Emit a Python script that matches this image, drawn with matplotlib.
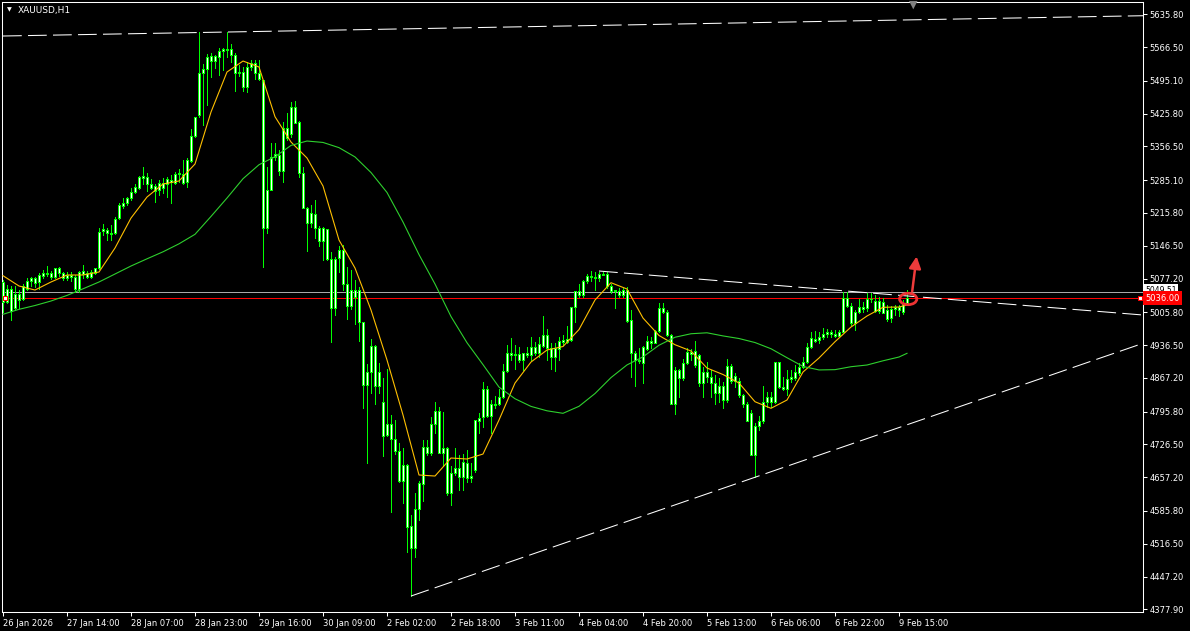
import numpy as np
import matplotlib
matplotlib.use("Agg")
import matplotlib.pyplot as plt
from matplotlib.patches import Ellipse
from matplotlib.transforms import blended_transform_factory

# XAUUSD H1 candles (bar 0 = 26 Jan 21:00)
opens = [
    5070, 5028, 5056, 5014, 5044, 5034, 5056, 5072, 5078, 5069,
    5083, 5088, 5088, 5080, 5100, 5088, 5078, 5085, 5081, 5056,
    5093, 5088, 5080, 5088, 5100, 5178, 5179, 5173, 5173, 5206,
    5231, 5236, 5247, 5261, 5269, 5290, 5292, 5278, 5272, 5264,
    5268, 5276, 5286, 5280, 5299, 5299, 5282, 5326, 5378, 5423,
    5512, 5521, 5548, 5537, 5546, 5558, 5562, 5562, 5550, 5511,
    5514, 5483, 5524, 5533, 5511, 5497, 5183, 5264, 5335, 5338,
    5305, 5395, 5383, 5439, 5409, 5301, 5226, 5195, 5214, 5185,
    5157, 5181, 5118, 5014, 5120, 5137, 5066, 5019, 5053, 5054,
    4986, 4852, 4880, 4935, 4850, 4817, 4746, 4770, 4739, 4713,
    4650, 4683, 4554, 4507, 4589, 4643, 4722, 4708, 4770, 4797,
    4709, 4718, 4623, 4667, 4676, 4658, 4687, 4655, 4672, 4777,
    4785, 4843, 4787, 4812, 4812, 4827, 4882, 4919, 4916, 4917,
    4905, 4919, 4916, 4933, 4920, 4935, 4958, 4930, 4911, 4928,
    4947, 4944, 4947, 5016, 5050, 5042, 5071, 5083, 5080, 5078,
    5087, 5087, 5061, 5050, 5050, 5042, 5054, 4990, 4920, 4905,
    4899, 4928, 4945, 4940, 4967, 5014, 5007, 4958, 4813, 4884,
    4866, 4898, 4921, 4894, 4915, 4856, 4880, 4869, 4856, 4835,
    4850, 4820, 4892, 4861, 4861, 4831, 4813, 4794, 4705, 4765,
    4775, 4817, 4826, 4817, 4900, 4847, 4843, 4864, 4866, 4878,
    4890, 4901, 4932, 4949, 4947, 4953, 4961, 4965, 4960, 4956,
    4965, 5037, 5019, 4984, 5007, 5018, 5014, 5035, 5030, 5009,
    5028, 5011, 4993, 5012, 5016, 5007, 5026,
]
highs = [
    5074, 5063, 5062, 5062, 5053, 5065, 5079, 5081, 5081, 5088,
    5095, 5104, 5093, 5100, 5102, 5092, 5092, 5092, 5085, 5093,
    5106, 5093, 5095, 5100, 5185, 5192, 5185, 5190, 5208, 5236,
    5248, 5250, 5268, 5276, 5295, 5313, 5300, 5288, 5276, 5286,
    5289, 5292, 5296, 5302, 5309, 5328, 5331, 5393, 5419, 5598,
    5530, 5551, 5553, 5550, 5565, 5565, 5598, 5574, 5553, 5528,
    5525, 5536, 5539, 5540, 5539, 5497, 5313, 5363, 5364, 5349,
    5409, 5428, 5451, 5453, 5410, 5312, 5229, 5233, 5243, 5188,
    5187, 5181, 5134, 5123, 5146, 5148, 5102, 5095, 5074, 5060,
    4986, 4896, 4949, 4937, 4898, 4866, 4887, 4789, 4778, 4729,
    4718, 4686, 4577, 4623, 4650, 4736, 4736, 4784, 4817, 4806,
    4796, 4722, 4680, 4718, 4704, 4707, 4715, 4687, 4778, 4792,
    4859, 4849, 4820, 4829, 4843, 4896, 4937, 4951, 4937, 4932,
    4920, 4932, 4953, 4943, 4953, 4997, 4971, 4940, 4940, 4954,
    4958, 4976, 5018, 5050, 5066, 5074, 5087, 5094, 5090, 5092,
    5092, 5092, 5066, 5053, 5057, 5057, 5060, 5011, 4923, 4930,
    4935, 4956, 4954, 4968, 5025, 5025, 5011, 4961, 4891, 4887,
    4908, 4930, 4929, 4946, 4918, 4891, 4901, 4884, 4873, 4866,
    4859, 4908, 4896, 4877, 4866, 4834, 4817, 4799, 4771, 4787,
    4849, 4838, 4838, 4900, 4901, 4869, 4884, 4884, 4894, 4898,
    4912, 4940, 4965, 4967, 4965, 4972, 4970, 4968, 4968, 4968,
    5049, 5049, 5025, 5010, 5033, 5028, 5046, 5046, 5042, 5039,
    5037, 5021, 5019, 5021, 5021, 5031, 5054,
]
lows = [
    5007, 5025, 4990, 5011, 5014, 5032, 5053, 5062, 5060, 5056,
    5078, 5083, 5076, 5078, 5083, 5074, 5074, 5071, 5049, 5049,
    5078, 5078, 5078, 5086, 5097, 5169, 5159, 5159, 5171, 5204,
    5227, 5233, 5243, 5257, 5266, 5278, 5262, 5266, 5240, 5254,
    5257, 5250, 5236, 5276, 5282, 5278, 5270, 5324, 5376, 5419,
    5402, 5444, 5504, 5523, 5507, 5518, 5546, 5536, 5474, 5505,
    5474, 5471, 5518, 5500, 5497, 5101, 5173, 5264, 5328, 5296,
    5282, 5370, 5377, 5405, 5291, 5226, 5136, 5187, 5162, 5146,
    5116, 5116, 4944, 5000, 5090, 5053, 4991, 5012, 4982, 4946,
    4803, 4688, 4836, 4812, 4835, 4702, 4744, 4584, 4707, 4648,
    4602, 4500, 4406, 4489, 4567, 4606, 4704, 4704, 4750, 4708,
    4680, 4620, 4598, 4662, 4630, 4630, 4648, 4648, 4669, 4750,
    4764, 4785, 4750, 4803, 4810, 4824, 4880, 4905, 4887, 4901,
    4884, 4912, 4905, 4916, 4911, 4933, 4905, 4887, 4882, 4905,
    4937, 4940, 4945, 4986, 5038, 5039, 5067, 5073, 5052, 5071,
    5085, 5058, 5046, 5014, 5039, 5039, 4986, 4870, 4850, 4898,
    4856, 4926, 4930, 4940, 4965, 5004, 4956, 4812, 4791, 4826,
    4863, 4897, 4905, 4891, 4849, 4827, 4859, 4827, 4813, 4817,
    4803, 4817, 4856, 4848, 4827, 4806, 4777, 4704, 4658, 4757,
    4771, 4806, 4806, 4815, 4845, 4842, 4831, 4859, 4863, 4873,
    4888, 4898, 4930, 4942, 4940, 4949, 4954, 4954, 4953, 4954,
    4965, 5017, 4979, 4969, 5004, 5007, 5009, 5028, 5007, 5005,
    5004, 4988, 4986, 5000, 4997, 5003, 5025,
]
closes = [
    5028, 5056, 5008, 5044, 5032, 5062, 5073, 5078, 5068, 5085,
    5088, 5086, 5080, 5100, 5088, 5078, 5085, 5081, 5056, 5092,
    5086, 5081, 5090, 5100, 5176, 5182, 5173, 5171, 5204, 5233,
    5236, 5247, 5261, 5271, 5292, 5295, 5278, 5269, 5263, 5279,
    5280, 5288, 5282, 5299, 5300, 5280, 5328, 5378, 5419, 5511,
    5520, 5546, 5537, 5548, 5558, 5562, 5560, 5550, 5512, 5514,
    5483, 5525, 5532, 5511, 5498, 5183, 5264, 5335, 5340, 5305,
    5395, 5374, 5439, 5407, 5301, 5226, 5195, 5215, 5185, 5157,
    5183, 5118, 5014, 5118, 5137, 5066, 5019, 5053, 5038, 4986,
    4852, 4880, 4935, 4850, 4880, 4744, 4770, 4739, 4713, 4650,
    4683, 4553, 4507, 4589, 4644, 4722, 4708, 4770, 4797, 4709,
    4718, 4623, 4667, 4676, 4658, 4690, 4655, 4660, 4778, 4782,
    4843, 4787, 4812, 4810, 4826, 4882, 4919, 4916, 4917, 4905,
    4919, 4916, 4933, 4920, 4939, 4958, 4930, 4911, 4930, 4946,
    4944, 4949, 5016, 5050, 5042, 5071, 5083, 5080, 5078, 5087,
    5085, 5061, 5050, 5052, 5042, 5054, 4988, 4920, 4905, 4902,
    4932, 4945, 4940, 4967, 5014, 5007, 4958, 4813, 4884, 4866,
    4898, 4921, 4918, 4923, 4856, 4880, 4868, 4856, 4836, 4850,
    4820, 4892, 4861, 4871, 4830, 4813, 4777, 4705, 4766, 4776,
    4817, 4826, 4817, 4900, 4847, 4843, 4864, 4868, 4880, 4891,
    4901, 4932, 4951, 4946, 4953, 4961, 4965, 4960, 4956, 4965,
    5037, 5019, 4984, 5007, 5018, 5012, 5035, 5033, 5009, 5030,
    5005, 4992, 5012, 5016, 5011, 5026, 5036,
]

# moving averages as drawn on the chart, read every 4 bars (+ current bar)
ma_bars = list(range(0, 225, 4)) + [226]
ma_fast = [
    5083.2, 5061.4, 5052.9, 5069.9, 5084.7, 5084.7, 5091.0, 5141.7, 5205.1, 5249.5,
    5277.0, 5283.4, 5319.3, 5429.2, 5513.8, 5537.0, 5524.4, 5419.3, 5365.8, 5332.0,
    5272.8, 5158.6, 5099.4, 5010.7, 4905.0, 4788.7, 4661.9, 4659.7, 4697.8, 4695.7,
    4706.2, 4778.1, 4856.3, 4900.7, 4926.1, 4933.5, 4969.4, 5031.8, 5068.4, 5055.1,
    4993.7, 4956.8, 4937.3, 4924.0, 4888.0, 4874.3, 4856.3, 4816.8, 4802.9, 4820.4,
    4879.6, 4909.2, 4943.6, 4974.7, 4998.0, 5016.4, 5017.0, 5021.2,
]
ma_slow = [
    5001.6, 5012.1, 5020.2, 5029.7, 5041.5, 5055.5, 5069.9, 5086.8, 5103.7, 5118.9,
    5133.7, 5150.6, 5170.7, 5208.5, 5247.4, 5288.2, 5317.8, 5334.7, 5358.6, 5367.9,
    5364.9, 5353.9, 5334.3, 5301.3, 5259.1, 5196.7, 5127.8, 5065.6, 4996.9, 4941.5,
    4895.2, 4847.7, 4823.1, 4806.9, 4797.6, 4792.3, 4807.1, 4834.1, 4867.8, 4894.6,
    4911.7, 4936.2, 4953.1, 4960.5, 4962.5, 4955.9, 4950.4, 4941.9, 4928.8, 4909.8,
    4891.4, 4884.0, 4884.6, 4890.8, 4894.4, 4903.3, 4911.3, 4919.1,
]

time_label_bars = list(range(0, 225, 16))
time_labels = ["26 Jan 2026", "27 Jan 14:00", "28 Jan 07:00", "28 Jan 23:00",
               "29 Jan 16:00", "30 Jan 09:00", "2 Feb 02:00", "2 Feb 18:00",
               "3 Feb 11:00", "4 Feb 04:00", "4 Feb 20:00", "5 Feb 13:00",
               "6 Feb 06:00", "6 Feb 22:00", "9 Feb 15:00"]
price_ticks = [5635.80, 5566.50, 5495.10, 5425.80, 5356.50, 5285.10, 5215.80,
               5146.50, 5077.20, 5005.80, 4936.50, 4867.20, 4795.80, 4726.50,
               4657.20, 4585.80, 4516.50, 4447.20, 4377.90]

ask_price = 5049.51
bid_price = 5036.00

# trend lines: (bar, price) anchors
trend_top = ([0, 285], [5589.9, 5632.8])
trend_down = ([149, 285], [5093.1, 5000.1])
trend_up = ([102, 285], [4406.0, 4940.3])

# hand-drawn markup on the last bar
circle_center = (226.3, 5034.0)
arrow_tail = (227.3, 5050.0)
arrow_head = (228.4, 5124.0)

LIME = "#00ff00"
W, H = 1190, 631

fig = plt.figure(figsize=(W / 100, H / 100), dpi=100, facecolor="black")
ax = fig.add_axes([2 / W, 1 - 611.7 / H, 1141 / W, 609.7 / H], facecolor="black")
ax.set_xlim(-0.25, 285)
ax.set_ylim(4372.9, 5661.8)

# bid / ask lines (1 px, crisp)
ax.axhline(ask_price, color="#a8a8a8", lw=0.5, zorder=1, antialiased=False)
ax.axhline(bid_price, color="#ff0000", lw=0.5, zorder=1, antialiased=False)

# candles: lime wicks/outlines, white bodies
x = np.arange(len(closes))
o = np.array(opens, dtype=float)
c = np.array(closes, dtype=float)
ax.vlines(x, lows, highs, color=LIME, lw=0.5, zorder=3, antialiased=False)
body_lo = np.minimum(o, c)
body_h = np.maximum(np.abs(c - o), 0.5)
ax.bar(x, body_h, bottom=body_lo, width=0.6, color="white", edgecolor=LIME,
       linewidth=0.5, zorder=4, antialiased=False)

# moving averages
ax.plot(ma_bars, ma_fast, color="#ffc000", lw=0.8, zorder=5)
ax.plot(ma_bars, ma_slow, color="#2ed02e", lw=0.8, zorder=5)

# trend lines
for tx, ty in (trend_top, trend_down, trend_up):
    ax.plot(tx, ty, color="white", lw=0.75, linestyle=(0, (18, 6)), zorder=6)

# markers at the ends of the bid line
ax.plot([0.5, 284.3], [bid_price, bid_price], "s", ms=3.2, mfc="white", mec="red",
        mew=0.75, zorder=9, clip_on=False)

# red circle + arrow
ax.add_patch(Ellipse(circle_center, width=4.3, height=24, fill=False,
                     ec="#ee3333", lw=2.0, zorder=8))
ax.annotate("", xy=arrow_head, xytext=arrow_tail,
            arrowprops=dict(arrowstyle="-|>,head_length=0.7,head_width=0.35",
                            color="#ee3b3b", lw=1.8, shrinkA=0, shrinkB=0,
                            mutation_scale=10), zorder=8)

# axes styling
for s in ax.spines.values():
    s.set_color("white")
    s.set_linewidth(0.75)
ax.yaxis.tick_right()
ax.set_yticks(price_ticks)
ax.set_yticklabels([f"{p:.2f}" for p in price_ticks])
ax.set_xticks(time_label_bars)
ax.set_xticklabels(time_labels, ha="left")
ax.tick_params(axis="y", colors="white", length=3, width=0.75, pad=1.5, labelsize=6)
ax.tick_params(axis="x", colors="white", length=3, width=0.75, pad=2, labelsize=6)

# price labels on the right scale (bid label drawn over the ask label, as in MT4)
trans = blended_transform_factory(ax.transAxes, ax.transData)
ax.text(1.002, ask_price + 2.5, f"{ask_price:.2f}", transform=trans, fontsize=5.5,
        color="black", va="center", ha="left", zorder=10, clip_on=False,
        bbox=dict(boxstyle="square,pad=0.2", fc="white", ec="none"))
ax.text(1.002, bid_price, f"{bid_price:.2f}", transform=trans, fontsize=6,
        color="white", va="center", ha="left", zorder=11, clip_on=False,
        bbox=dict(boxstyle="square,pad=0.25", fc="#ff0000", ec="none"))

# header
fig.text(9 / W, 1 - 10 / H, "\u25bc", fontsize=4.5, color="white", ha="center", va="center")
fig.text(18 / W, 1 - 10 / H, "XAUUSD,H1", fontsize=6.5, color="white", ha="left", va="center")
fig.text(913 / W, 1 - 5 / H, "\u25bc", fontsize=8, color="#808080", ha="center", va="center")

fig.savefig("out.png", dpi=100, facecolor="black")
